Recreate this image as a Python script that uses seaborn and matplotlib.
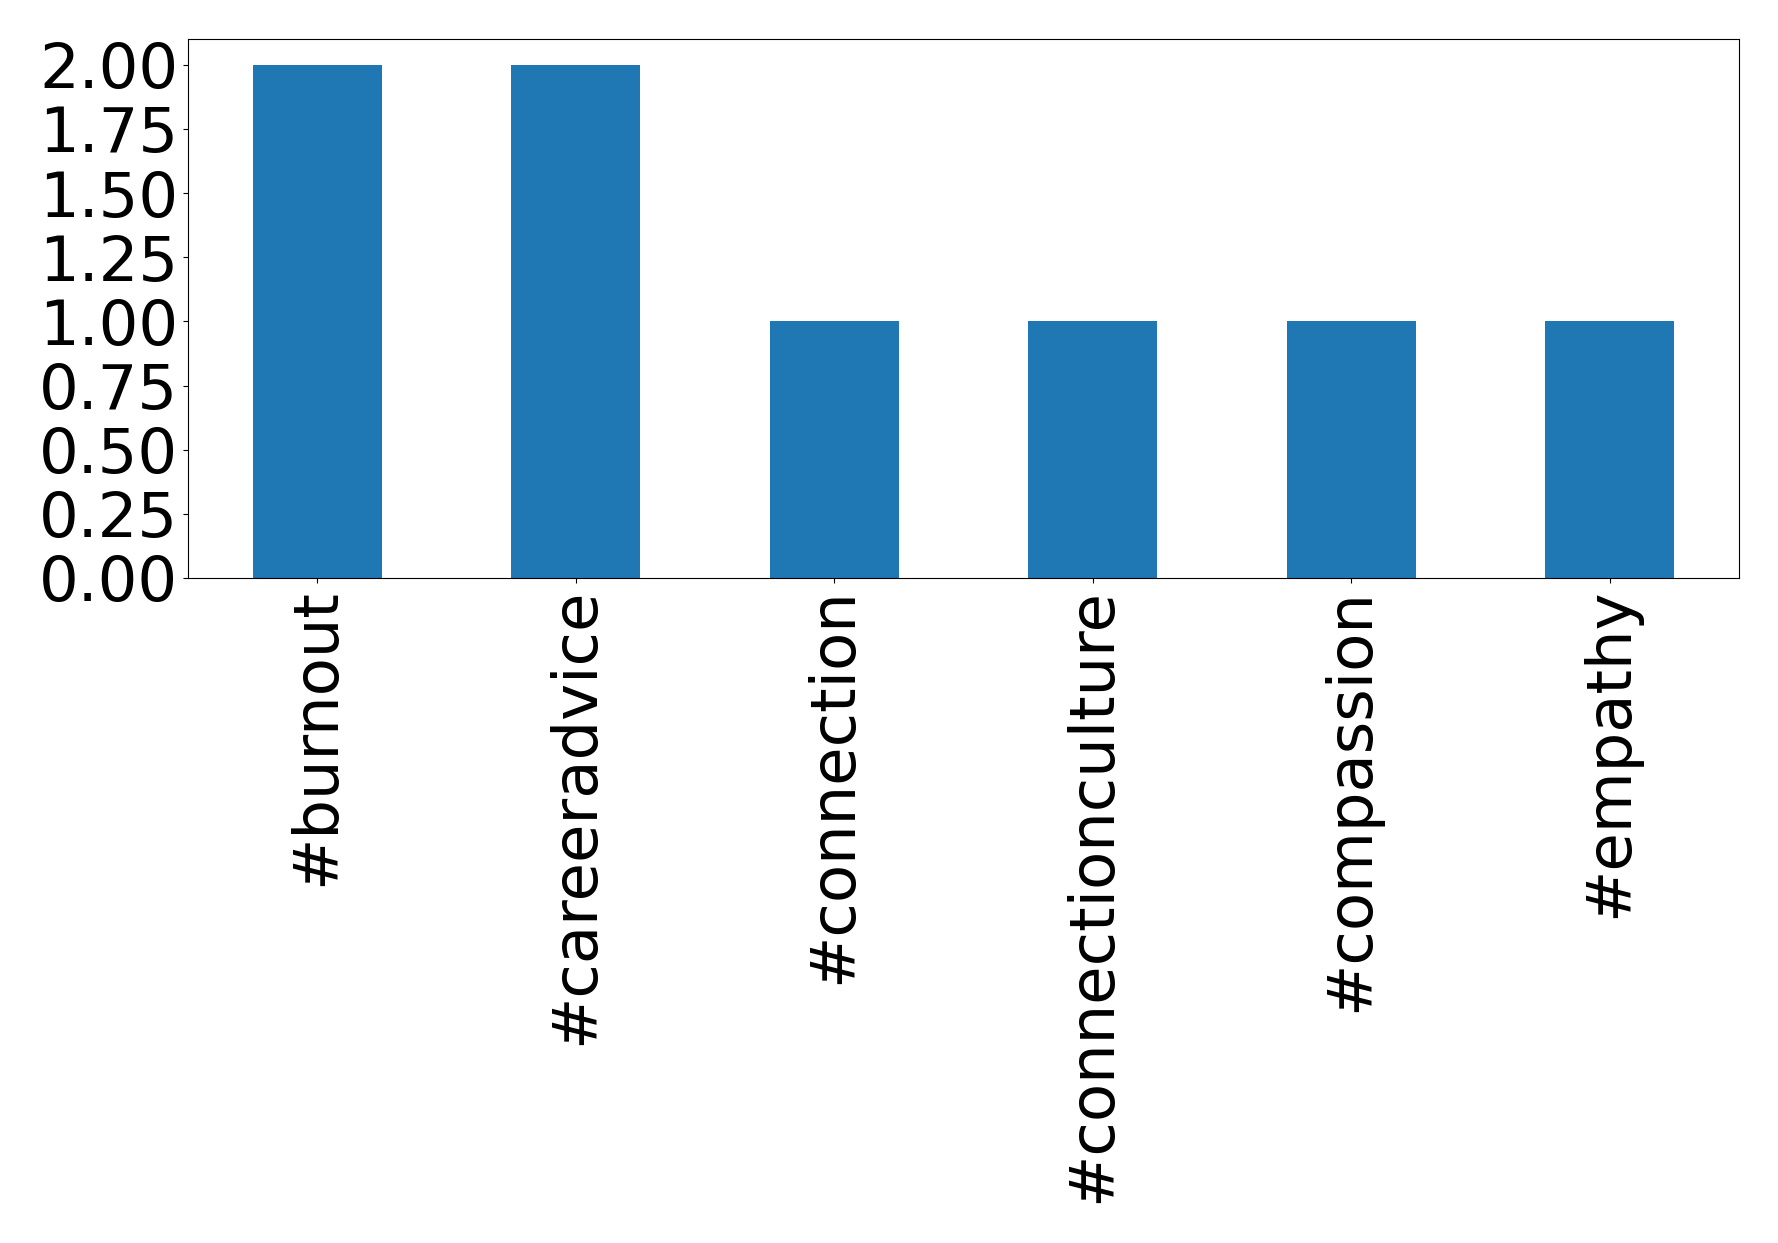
#___________________________________________________________________________________________________________________________________________
# Required Modules
import matplotlib
matplotlib.use("Agg")
import pandas as pd
import matplotlib.pyplot as plt
import seaborn as sns
#___________________________________________________________________________________________________________________________________________
# Hashtag counts
hashtags = ['#burnout', '#careeradvice', '#connection', '#connectionculture', '#compassion', '#empathy']
counts = [2, 2, 1, 1, 1, 1]
yticks = [0.0, 0.25, 0.5, 0.75, 1.0, 1.25, 1.5, 1.75, 2.0]

hashtag_df = pd.DataFrame({'Hashtag': hashtags, 'Count': counts})
#___________________________________________________________________________________________________________________________________________
# PLOTTING : ( BARPLOT )
fig, ax = plt.subplots(figsize=(17.78, 12.43), dpi=100)
fig.subplots_adjust(left=0.1057, right=0.978, top=0.9685, bottom=0.535)

sns.barplot(
    data=hashtag_df,
    x='Hashtag',
    y='Count',
    color='#1f77b4',
    saturation=1,
    width=0.5,
    ax=ax
)
ax.set_xlim(-0.5, len(hashtags) - 0.5)
ax.set_ylim(0, 2.1)
ax.set_yticks(yticks)
ax.set_yticklabels([f'{t:.2f}' for t in yticks])
ax.set_xlabel('')
ax.set_ylabel('')
ax.tick_params(axis='both', labelsize=45)
plt.setp(ax.get_xticklabels(), rotation=90)

plt.savefig('out.png', dpi=100)
